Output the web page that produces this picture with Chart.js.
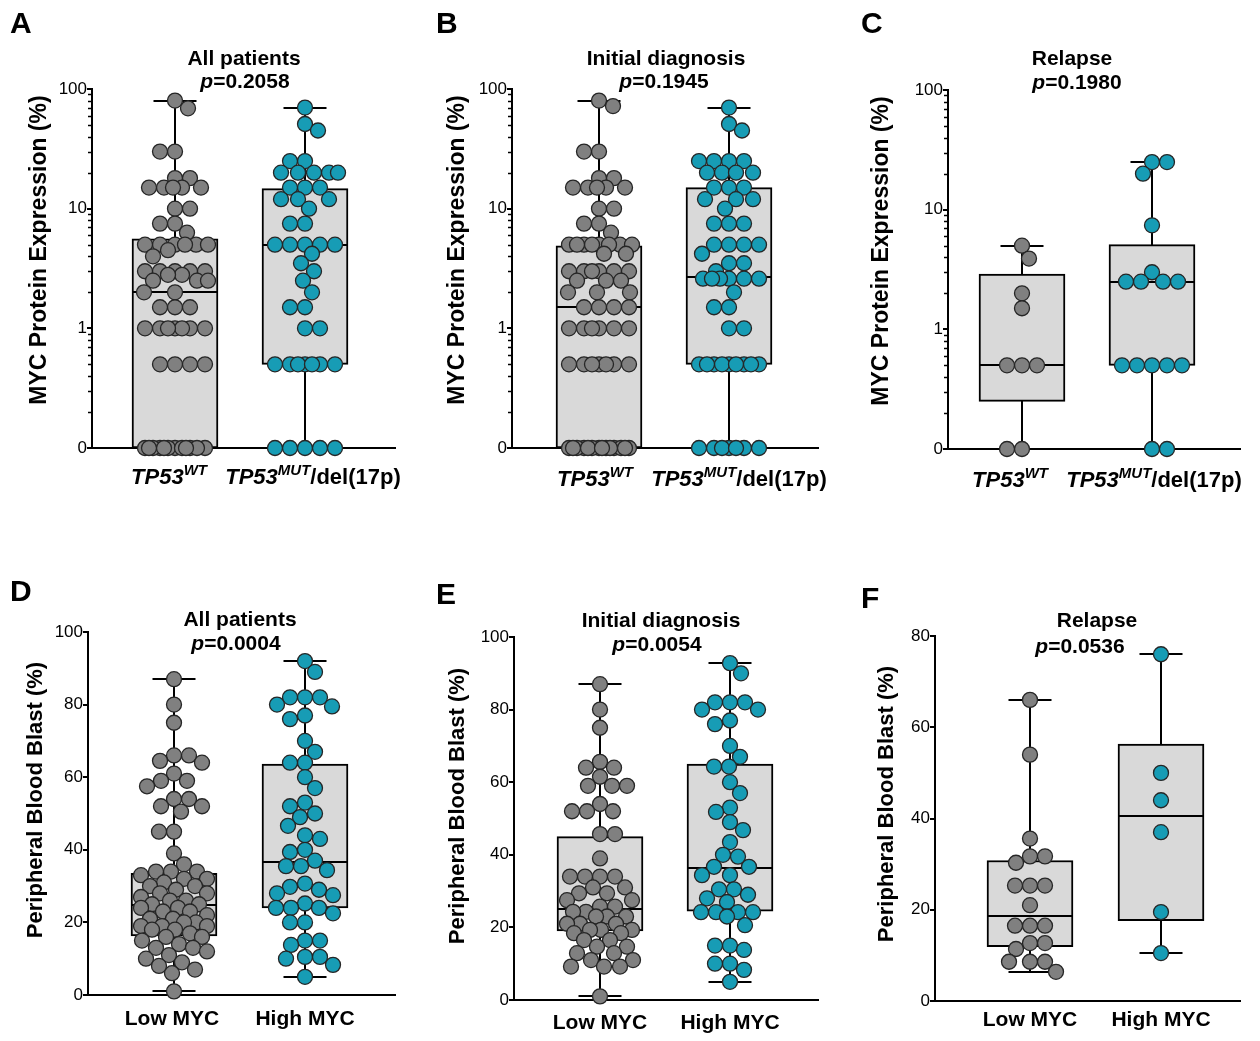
<!DOCTYPE html>
<html>
<head>
<meta charset="utf-8">
<script src="https://cdn.jsdelivr.net/npm/chart.js@4.4.1/dist/chart.umd.min.js"></script>
<style>
  body { margin: 0; background: #fff; }
  #fig { position: relative; width: 1260px; height: 1041px; overflow: hidden; }
  .panel { position: absolute; }
</style>
</head>
<body>
<div id="fig"></div>
<script>
// ---- textos / categorias ----
const panelLetters = ['A', 'B', 'C', 'D', 'E', 'F'];
const panelTitles = ['All patients', 'Initial diagnosis', 'Relapse', 'All patients', 'Initial diagnosis', 'Relapse'];
const pValues = ['0.2058', '0.1945', '0.1980', '0.0004', '0.0054', '0.0536'];
const mycAxisTitle = 'MYC Protein Expression (%)';
const blastAxisTitle = 'Peripheral Blood Blast (%)';
const tp53Groups = [['TP53', 'WT', ''], ['TP53', 'MUT', '/del(17p)']];
const mycGroups = ['Low MYC', 'High MYC'];

// ---- ticks ----
const logTicks = [0, 1, 10, 100];          // "0" fica na posição de 0.1
const blastTicks = [0, 20, 40, 60, 80, 100];
const blastTicksRelapse = [0, 20, 40, 60, 80];

// ---- A: todos os pacientes (MYC %) ----
const allWt = [80, 69, 30, 30, 18, 18, 15, 15, 15, 15, 15, 10, 10, 7.5, 7.5, 6.3, 5, 5, 5, 5, 5, 5, 4.5, 4,
  3, 3, 3, 3, 3, 2.8, 2.8, 2.5, 2.5, 2.5, 2, 2, 1.5, 1.5, 1.5, 1, 1, 1, 1, 1, 1, 1, 0.5, 0.5, 0.5, 0.5,
  0, 0, 0, 0, 0, 0, 0, 0, 0, 0, 0, 0];
const allMut = [70, 51, 45, 25, 25, 20, 20, 20, 20, 20, 15, 15, 15, 12, 12, 12, 10, 7.5, 7.5, 5, 5, 5, 5, 5,
  4.2, 3.5, 3, 2.5, 2, 1.5, 1.5, 1, 1, 0.5, 0.5, 0.5, 0.5, 0.5, 0.5, 0.5, 0, 0, 0, 0, 0];
// [min, q1, mediana, q3, max]
const allWtBox = [0, 0, 2, 5.6, 80];
const allMutBox = [0, 0.5, 5, 14.7, 70];

// ---- B: diagnóstico inicial (MYC %) ----
const initWt = [80, 72, 30, 30, 18, 18, 15, 15, 15, 15, 15, 10, 10, 7.5, 7.5, 6.3, 5, 5, 5, 5, 5, 5, 5, 5,
  4.2, 4.2, 3, 3, 3, 3, 3, 3, 2.5, 2.5, 2.5, 2, 2, 2, 1.5, 1.5, 1.5, 1.5, 1, 1, 1, 1, 1, 1,
  0.5, 0.5, 0.5, 0.5, 0.5, 0.5, 0.5, 0, 0, 0, 0, 0, 0, 0, 0, 0, 0, 0, 0, 0, 0];
const initMut = [70, 51, 45, 25, 25, 25, 25, 20, 20, 20, 20, 15, 15, 15, 12, 12, 12, 10, 7.5, 7.5, 7.5,
  5, 5, 5, 5, 4.2, 3.5, 3.5, 3, 2.6, 2.6, 2.6, 2.6, 2.6, 2.6, 2, 1.5, 1.5, 1, 1,
  0.5, 0.5, 0.5, 0.5, 0.5, 0.5, 0.5, 0.5, 0.5, 0, 0, 0, 0, 0, 0, 0];
const initWtBox = [0, 0, 1.5, 4.9, 80];
const initMutBox = [0, 0.5, 2.66, 15, 70];

// ---- C: recaída (MYC %) ----
const relWt = [5, 3.9, 2, 1.5, 0.5, 0.5, 0.5, 0, 0];
const relMut = [25, 25, 20, 7.4, 3, 2.5, 2.5, 2.5, 2.5, 0.5, 0.5, 0.5, 0.5, 0.5, 0, 0];
const relWtBox = [0, 0.25, 0.5, 2.9, 5];
const relMutBox = [0, 0.5, 2.5, 5.1, 25];

// ---- D: todos os pacientes (blastos %) ----
const blastAllLow = [87, 80, 75, 66, 66, 64.5, 64, 61, 59, 59, 57.5, 54, 54, 52, 52, 50.5, 45, 45, 39,
  36, 34, 34, 34, 33, 32, 32, 31, 30, 30, 29, 28, 28, 27, 26, 26, 25, 25, 24, 24, 23, 23, 22, 21, 21,
  20, 20, 19, 19, 19, 18, 18, 17, 16, 16, 15, 14, 13, 13, 12, 11, 10, 9, 8, 7, 6, 1];
const blastAllHigh = [92, 89, 82, 82, 82, 80, 79.5, 77, 76, 70, 67, 64, 64, 60, 57, 53, 52, 50, 49, 46.6,
  44, 43, 40, 39.4, 37, 35.5, 35.5, 34.4, 30.7, 29.8, 29, 28, 27.5, 25.2, 24, 24, 24, 22.5, 20, 20,
  15, 15, 13.8, 10.5, 10.5, 10, 8.3, 5];
const blastAllLowBox = [1, 16.3, 24.8, 33.5, 87];
const blastAllHighBox = [5, 24, 36.7, 63.6, 92];

// ---- E: diagnóstico inicial (blastos %) ----
const blastInitLow = [87, 80, 75, 65.6, 64, 64, 61.5, 59, 59, 59, 54, 52, 52, 52, 45.7, 45.7, 39, 34, 34, 34, 34,
  31, 31, 29.4, 29.4, 27.5, 27.5, 25.7, 25.7, 24.3, 24.3, 23, 23, 23, 21, 21, 21, 19.3, 19.3, 19.3,
  18.4, 18.4, 16.5, 16.5, 14.7, 14.7, 12.9, 12.9, 11, 11, 9.2, 9.2, 9.2, 1];
const blastInitHigh = [92.8, 90, 82, 82, 82, 80, 80, 77, 76, 70, 67, 64.3, 64.3, 60, 57, 53, 51.8, 49, 46.8,
  43.5, 40, 39.5, 36.7, 36.7, 34.4, 34.4, 30.5, 30.5, 29, 28, 27, 24.2, 24.2, 24.2, 24.2, 23, 20.6,
  15, 15, 13.8, 10, 10, 8.3, 5];
const blastInitLowBox = [1, 19, 25, 45, 87];
const blastInitHighBox = [5, 24.5, 36.5, 65, 92.8];

// ---- F: recaída (blastos %) ----
const blastRelLow = [66, 54, 35.6, 31.7, 31.7, 30.3, 25.3, 25.3, 25.3, 21, 16.5, 16.5, 16.5, 12.7, 12.7,
  11.4, 8.6, 8.6, 8.6, 6.4];
const blastRelHigh = [76, 50, 44, 37, 19.5, 10.5];
const blastRelLowBox = [6.4, 11.9, 18.7, 30.8, 66];
const blastRelHighBox = [10.5, 17.6, 40.5, 56.3, 76];

// ---- estilo ----
const FONT = "'Liberation Sans', Arial, Helvetica, sans-serif";
const GRAY = '#808080';
const TEAL = '#179cb5';
const EDGE = '#262626';
const BOX_FILL = '#d9d9d9';
const BOX_W = 86;
const ZERO_AT = 0.1;

// layout de cada painel (posições absolutas na figura)
const panels = [
  { i: 0, log: true, groups: [allWt, allMut], boxes: [allWtBox, allMutBox], ticks: logTicks, max: 100,
    left: 0, top: 0, w: 420, h: 520, axisX: 92, rightX: 395, topY: 89, bottomY: 448, cats: [175, 305],
    letter: [10, 33], title: [244, 65], p: [245, 88], yTitle: [40, 250], xBase: 484, labelDx: [-6, 8] },
  { i: 1, log: true, groups: [initWt, initMut], boxes: [initWtBox, initMutBox], ticks: logTicks, max: 100,
    left: 420, top: 0, w: 420, h: 520, axisX: 512, rightX: 818, topY: 89, bottomY: 448, cats: [599, 729],
    letter: [436, 33], title: [666, 65], p: [664, 88], yTitle: [458, 250], xBase: 486, labelDx: [-4, 10] },
  { i: 2, log: true, groups: [relWt, relMut], boxes: [relWtBox, relMutBox], ticks: logTicks, max: 100,
    left: 840, top: 0, w: 420, h: 520, axisX: 948, rightX: 1240, topY: 90, bottomY: 449, cats: [1022, 1152],
    letter: [861, 33], title: [1072, 65], p: [1077, 89], yTitle: [882, 251], xBase: 487, labelDx: [-12, 2] },
  { i: 3, log: false, groups: [blastAllLow, blastAllHigh], boxes: [blastAllLowBox, blastAllHighBox], ticks: blastTicks, max: 100,
    left: 0, top: 560, w: 420, h: 481, axisX: 88, rightX: 395, topY: 632, bottomY: 995, cats: [174, 305],
    letter: [10, 601], title: [240, 626], p: [236, 650], yTitle: [36, 800], xBase: 1025, labelDx: [-2, 0] },
  { i: 4, log: false, groups: [blastInitLow, blastInitHigh], boxes: [blastInitLowBox, blastInitHighBox], ticks: blastTicks, max: 100,
    left: 420, top: 560, w: 420, h: 481, axisX: 514, rightX: 818, topY: 637, bottomY: 1000, cats: [600, 730],
    letter: [436, 604], title: [661, 627], p: [657, 651], yTitle: [458, 806], xBase: 1029, labelDx: [0, 0] },
  { i: 5, log: false, groups: [blastRelLow, blastRelHigh], boxes: [blastRelLowBox, blastRelHighBox], ticks: blastTicksRelapse, max: 80,
    left: 840, top: 560, w: 420, h: 481, axisX: 935, rightX: 1240, topY: 636, bottomY: 1001, cats: [1030, 1161],
    letter: [861, 608], title: [1097, 627], p: [1080, 653], yTitle: [887, 804], xBase: 1026, labelDx: [0, 0] }
];

function toAxisFor(p) {
  return p.log ? (v => (v <= 0 ? ZERO_AT : v)) : (v => v);
}

// desenha texto com partes de estilos diferentes, centrado em cx
function drawParts(ctx, parts, cx, base) {
  let total = 0;
  parts.forEach(pt => { ctx.font = pt.font; pt.w = ctx.measureText(pt.text).width; total += pt.w; });
  let x = cx - total / 2;
  parts.forEach(pt => {
    ctx.font = pt.font;
    ctx.fillText(pt.text, x, base + (pt.dy || 0));
    x += pt.w;
  });
}

// whiskers + mediana, desenhados logo depois das caixas
const boxPlugin = {
  id: 'boxWhiskers',
  afterDatasetDraw(chart, args) {
    if (args.meta.type !== 'bar') return;
    const p = chart.canvas.$panel;
    const toAxis = toAxisFor(p);
    const xs = chart.scales.x, ys = chart.scales.y;
    const ctx = chart.ctx;
    ctx.save();
    ctx.strokeStyle = '#000';
    ctx.lineWidth = 2;
    ctx.lineCap = 'butt';
    const seg = (x1, y1, x2, y2) => { ctx.beginPath(); ctx.moveTo(x1, y1); ctx.lineTo(x2, y2); ctx.stroke(); };
    p.boxes.forEach((b, k) => {
      const cx = Math.round(xs.getPixelForValue(k + 1));
      const py = v => Math.round(ys.getPixelForValue(toAxis(v)));
      const half = BOX_W / 2 - 1, cap = BOX_W / 4;
      seg(cx, py(b[3]), cx, py(b[4]));
      seg(cx - cap, py(b[4]), cx + cap, py(b[4]));
      seg(cx, py(b[1]), cx, py(b[0]));
      seg(cx - cap, py(b[0]), cx + cap, py(b[0]));
      seg(cx - half, py(b[2]), cx + half, py(b[2]));
    });
    ctx.restore();
  }
};

// textos: letra do painel, título, p, título do eixo y, rótulos x, ticks menores
const textPlugin = {
  id: 'panelText',
  afterDraw(chart) {
    const p = chart.canvas.$panel;
    const ctx = chart.ctx;
    const ox = p.left, oy = p.top;
    ctx.save();
    ctx.fillStyle = '#000';
    ctx.textBaseline = 'alphabetic';
    ctx.textAlign = 'left';

    ctx.font = 'bold 30px ' + FONT;
    ctx.fillText(panelLetters[p.i], p.letter[0] - ox, p.letter[1] - oy);

    drawParts(ctx, [{ text: panelTitles[p.i], font: 'bold 21px ' + FONT }], p.title[0] - ox, p.title[1] - oy);
    drawParts(ctx, [
      { text: 'p', font: 'italic bold 21px ' + FONT },
      { text: '=' + pValues[p.i], font: 'bold 21px ' + FONT }
    ], p.p[0] - ox, p.p[1] - oy);

    // título do eixo y
    ctx.save();
    ctx.translate(p.yTitle[0] - ox, p.yTitle[1] - oy);
    ctx.rotate(-Math.PI / 2);
    ctx.textAlign = 'center';
    ctx.textBaseline = 'middle';
    ctx.font = (p.log ? 'bold 23px ' : 'bold 22px ') + FONT;
    ctx.fillText(p.log ? mycAxisTitle : blastAxisTitle, 0, 0);
    ctx.restore();

    // rótulos das categorias
    const xs = chart.scales.x;
    [1, 2].forEach((c, k) => {
      const cx = xs.getPixelForValue(c) + p.labelDx[k];
      let parts;
      if (p.log) {
        const g = tp53Groups[k];
        parts = [
          { text: g[0], font: 'italic bold 22px ' + FONT },
          { text: g[1], font: 'italic bold 15px ' + FONT, dy: -9 }
        ];
        if (g[2]) parts.push({ text: g[2], font: 'bold 22px ' + FONT });
      } else {
        parts = [{ text: mycGroups[k], font: 'bold 21px ' + FONT }];
      }
      drawParts(ctx, parts, cx, p.xBase - oy);
    });

    // ticks menores do eixo log
    if (p.log) {
      const ys = chart.scales.y;
      const x0 = chart.chartArea.left;
      ctx.strokeStyle = '#000';
      ctx.lineWidth = 1.5;
      [0.1, 1, 10].forEach(dec => {
        for (let m = 2; m <= 9; m++) {
          const y = Math.round(ys.getPixelForValue(dec * m)) + 0.5;
          ctx.beginPath();
          ctx.moveTo(x0 - 4, y);
          ctx.lineTo(x0, y);
          ctx.stroke();
        }
      });
    }
    ctx.restore();
  }
};

// beeswarm simples em pixels, limitado à largura da caixa
function swarmOffsets(ys, values, toAxis, maxOff) {
  const minD = 14.5;
  const placed = [];
  const offs = new Array(values.length);
  const idx = values.map((v, i) => i).sort((a, b) => values[b] - values[a]);
  let side = 1;
  idx.forEach(i => {
    const py = ys.getPixelForValue(toAxis(values[i]));
    let best = 0, bestD = -1, found = false;
    for (let k = 0; k <= maxOff && !found; k++) {
      const cands = k === 0 ? [0] : [side * k, -side * k];
      for (const off of cands) {
        let d = Infinity;
        for (const q of placed) {
          const dd = Math.hypot(q.x - off, q.y - py);
          if (dd < d) d = dd;
        }
        if (d >= minD) { best = off; found = true; break; }
        if (d > bestD) { bestD = d; best = off; }
      }
    }
    if (best !== 0) side = -Math.sign(best);
    placed.push({ x: best, y: py });
    offs[i] = best;
  });
  return offs;
}

function buildPanel(p) {
  const holder = document.createElement('div');
  holder.className = 'panel';
  holder.style.left = p.left + 'px';
  holder.style.top = p.top + 'px';
  holder.style.width = p.w + 'px';
  holder.style.height = p.h + 'px';
  const canvas = document.createElement('canvas');
  canvas.width = p.w;
  canvas.height = p.h;
  canvas.style.width = p.w + 'px';
  canvas.style.height = p.h + 'px';
  canvas.$panel = p;
  holder.appendChild(canvas);
  document.getElementById('fig').appendChild(holder);

  const toAxis = toAxisFor(p);
  const unit = p.cats[1] - p.cats[0];
  const xMin = 1 - (p.cats[0] - p.axisX) / unit;
  const xMax = 2 + (p.rightX - p.cats[1]) / unit;
  const colors = [GRAY, TEAL];

  const datasets = p.groups.map((vals, k) => ({
    type: 'scatter',
    data: vals.map(v => ({ x: k + 1, y: toAxis(v) })),
    pointRadius: 7.5,
    pointHoverRadius: 7.5,
    pointBackgroundColor: colors[k],
    pointBorderColor: EDGE,
    pointBorderWidth: 1.3,
    clip: false,
    order: 0
  }));
  datasets.push({
    type: 'bar',
    data: p.boxes.map((b, k) => ({ x: k + 1, y: [toAxis(b[1]), toAxis(b[3])] })),
    backgroundColor: BOX_FILL,
    borderColor: '#000',
    borderWidth: 2,
    borderSkipped: false,
    barThickness: BOX_W,
    order: 1
  });

  const yScale = {
    type: p.log ? 'logarithmic' : 'linear',
    min: p.log ? ZERO_AT : 0,
    max: p.max,
    afterBuildTicks: s => { s.ticks = p.ticks.map(v => ({ value: toAxis(v) })); },
    afterFit: s => { s.width = p.axisX - p.left; },
    ticks: {
      color: '#000',
      font: { family: FONT, size: 17 },
      padding: 0,
      callback: v => (p.log && v <= ZERO_AT ? '0' : String(v))
    },
    grid: { display: true, drawOnChartArea: false, drawTicks: true, tickLength: 5, color: '#000', lineWidth: 2 },
    border: { display: true, color: '#000', width: 2 }
  };

  const chart = new Chart(canvas, {
    type: 'scatter',
    data: { datasets },
    options: {
      responsive: false,
      animation: false,
      events: [],
      layout: { padding: { left: 0, top: p.topY - p.top, right: p.left + p.w - p.rightX, bottom: 0 } },
      scales: {
        x: {
          type: 'linear',
          min: xMin,
          max: xMax,
          offset: false,
          afterFit: s => { s.height = p.top + p.h - p.bottomY; },
          ticks: { display: false },
          grid: { display: false, offset: false },
          border: { display: true, color: '#000', width: 2 }
        },
        y: yScale
      },
      plugins: { legend: { display: false }, tooltip: { enabled: false }, title: { display: false } }
    },
    plugins: [boxPlugin, textPlugin]
  });

  // espalha os pontos horizontalmente (beeswarm) usando as escalas do gráfico
  const xs = chart.scales.x, ys = chart.scales.y;
  p.groups.forEach((vals, k) => {
    const cpx = xs.getPixelForValue(k + 1);
    const offs = swarmOffsets(ys, vals, toAxis, BOX_W / 2 - 10);
    chart.data.datasets[k].data = vals.map((v, i) => ({ x: xs.getValueForPixel(cpx + offs[i]), y: toAxis(v) }));
  });
  chart.update('none');
}

panels.forEach(buildPanel);
</script>
</body>
</html>
